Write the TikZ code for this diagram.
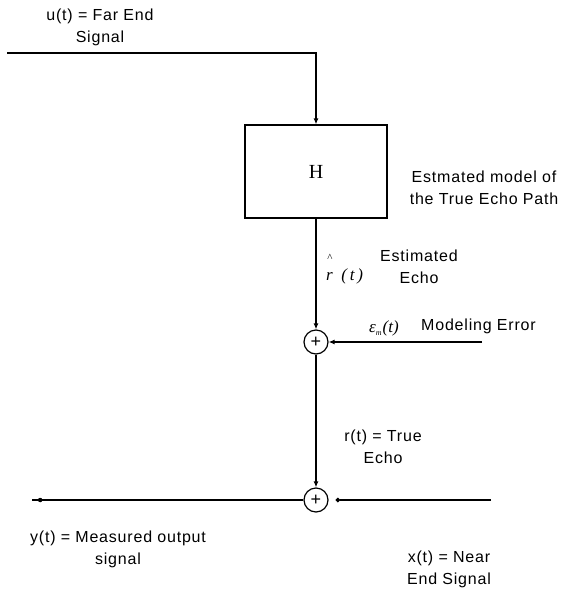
\documentclass[tikz,border=0pt]{standalone}
\usepackage{fontspec}
\setmainfont[LetterSpace=5]{Liberation Sans}
\newfontfamily\boxfont{Liberation Serif}
\usetikzlibrary{arrows.meta,positioning}

\newcommand{\subm}{\raisebox{-3pt}{\fontsize{8}{8}\selectfont m\hspace{1pt}}}
\newcommand{\hatr}{\shortstack[c]{{\fontsize{11}{11}\selectfont\textasciicircum}\\[7pt]r}}

\begin{document}
\begin{tikzpicture}[
    x=1pt, y=-1pt,
    font=\fontsize{16}{22}\selectfont,
    >={Latex[length=6pt,width=5pt]},
    blockbox/.style={draw, line width=1.2pt, minimum width=142pt, minimum height=93pt,
                     inner sep=0pt, font=\boxfont\fontsize{20}{22}\selectfont},
    sumnode/.style={draw, circle, line width=1.2pt, minimum size=24pt, inner sep=0pt,
                    font=\fontsize{18}{18}\selectfont},
    lbl/.style={align=center, inner sep=0pt},
    mathlbl/.style={lbl, font=\boxfont\itshape\fontsize{17}{19}\selectfont},
    flow/.style={->, line width=1.2pt},
    wire/.style={line width=1.2pt},
    dot/.style={circle, fill, inner sep=0pt, minimum size=4.5pt},
  ]
    \useasboundingbox (0,0) rectangle (564,590);

    % --- echo path model -------------------------------------------------
    \coordinate (uin) at (7,53);
    \coordinate (ucorner) at (316,53);
    \node[lbl] (ulabel) at (100,27) {u(t) = Far End\\Signal};
    \node[blockbox] (H) at (316,171.5) {H};
    \node[lbl] (modellabel) at (484,188) {Estmated model of\\the True Echo Path};

    % --- estimated echo + modeling error --------------------------------
    \node[mathlbl, anchor=base west] (rhat) at (326,280) {\hatr\ \ (\,t\,)};
    \node[lbl] (estecho) at (419,267) {Estimated\\Echo};
    \node[sumnode] (sum1) at (316,342) {+};
    \coordinate (merr) at (482,342);
    \node[mathlbl] (epslabel) at (384,328) {ε\subm(t)};
    \node[lbl, anchor=west] (modlabel) at (421,326) {Modeling Error};

    % --- true echo + near end -------------------------------------------
    \node[lbl] (rtrue) at (383,447) {r(t) = True\\Echo};
    \node[sumnode] (sum2) at (316,500) {+};
    \coordinate (xin) at (491,500);
    \coordinate (yout) at (32,500);
    \node[lbl] (ylabel) at (118,549) {y(t) = Measured output\\signal};
    \node[lbl] (xlabel) at (449,569) {x(t) = Near\\End Signal};

    % --- arrows ----------------------------------------------------------
    \draw[flow] (uin) -- (ucorner) -- (H.north);
    \draw[flow] (H) -- (sum1);
    \draw[flow] (merr) -- (sum1);
    \draw[flow] (sum1) -- (sum2);
    \draw[wire, -{Circle[length=4.5pt]}, shorten >=7pt] (xin) -- (sum2);
    \draw[wire] (sum2) -- (yout) node[dot, pos=0.97] {};
\end{tikzpicture}
\end{document}
